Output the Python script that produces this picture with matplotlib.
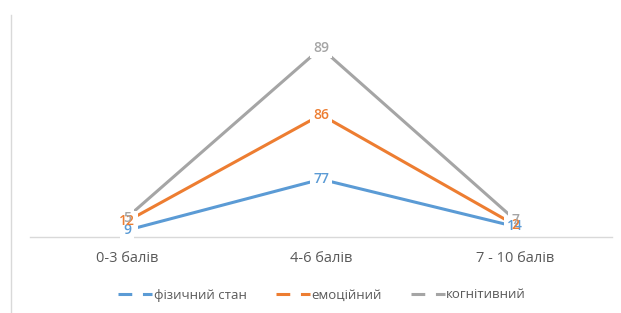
import numpy as np
import matplotlib.pyplot as plt
from matplotlib.lines import Line2D

# ── DATA ────────────────────────────────────────────────
categories = ['0-3 балів', '4-6 балів', '7 - 10 балів']
series_names = ['фізичний стан', 'емоційний', 'когнітивний']
fizychnyi = [9, 77, 14]
emotsiinyi = [12, 86, 2]
kognityvnyi = [5, 89, 7]

colors = ['#5B9BD5', '#ED7D31', '#A5A5A5']

plt.rcParams['font.family'] = ['Open Sans', 'DejaVu Sans']

# stacked line chart -> cumulative values
values = np.array([fizychnyi, emotsiinyi, kognityvnyi], dtype=float)
stacked = np.cumsum(values, axis=0)
x = np.arange(len(categories))

fig = plt.figure(figsize=(6.21, 3.13), dpi=100)
ax = fig.add_axes([30 / 621, 1 - 237 / 313, 582 / 621, 225 / 313])

for i, name in enumerate(series_names):
    ax.plot(x, stacked[i], color=colors[i], linewidth=2.2,
            solid_capstyle='round', zorder=2)

# white boxes behind labels (gap in lines), then the labels on top
for i in range(len(series_names)):
    for j in range(len(categories)):
        lbl = f'{int(values[i, j])}'
        ax.text(x[j], stacked[i, j], lbl, ha='center', va='center',
                fontsize=10, fontweight='semibold', color=(1, 1, 1, 0), zorder=3,
                bbox=dict(boxstyle='square,pad=0.2', fc='white', ec='none'))
for i in range(len(series_names)):
    for j in range(len(categories)):
        lbl = f'{int(values[i, j])}'
        ax.text(x[j], stacked[i, j], lbl, ha='center', va='center',
                fontsize=10, fontweight='semibold', color=colors[i], zorder=4 + i)

ax.set_xlim(-0.5, len(categories) - 0.5)
ax.set_ylim(0, 300)
ax.set_xticks(x)
ax.set_xticklabels(categories, fontsize=10.5, color='#595959')
ax.tick_params(axis='x', length=0, pad=10)
ax.set_yticks([])
for s in ['top', 'right', 'left']:
    ax.spines[s].set_visible(False)
ax.spines['bottom'].set_color('#D9D9D9')
ax.spines['bottom'].set_linewidth(1)

# ── LEYENDA ─────────────────────────────────────────────
handles = [Line2D([], [], color=c, linewidth=2.2, linestyle=(0, (4.5, 3.5)))
           for c in colors]
fig.legend(handles, series_names, loc='center', bbox_to_anchor=(322 / 621, 1 - 295 / 313),
           ncol=3, frameon=False, fontsize=9.5, labelcolor='#595959',
           handlelength=2.6, handletextpad=0.1, columnspacing=2.2)

# borde del área del gráfico (solo se ve el izquierdo)
fig.add_artist(Line2D([11 / 621, 11 / 621], [0, 1 - 15 / 313],
                      transform=fig.transFigure, color='#D9D9D9', linewidth=1))

fig.savefig('out.png', dpi=100)
